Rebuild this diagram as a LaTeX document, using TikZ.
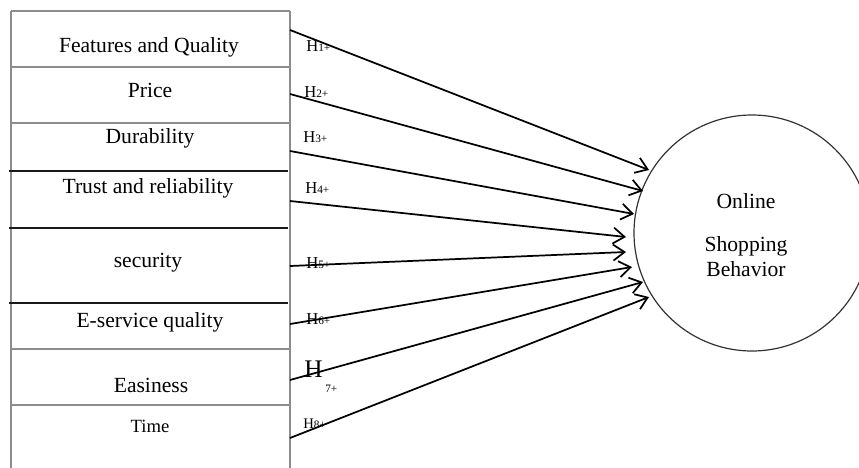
\documentclass[tikz,border=0pt]{standalone}
\usepackage{fontspec}
\setmainfont{Liberation Serif}
\usetikzlibrary{arrows.meta, positioning}

\tikzset{
  factor/.style={anchor=base, inner sep=0pt, font=\fontsize{16.2}{19}\selectfont},
  hlab/.style={anchor=base west, inner sep=0pt, font=\fontsize{12.5}{14}\selectfont},
  rowline/.style={draw=black!45, line width=0.8pt},
  darkline/.style={draw=black!90, line width=0.8pt},
  hyparrow/.style={line width=1.3pt, -{Straight Barb[length=8.5pt,width=12pt]}}
}
\newcommand{\hsub}[1]{{\fontsize{8.5}{9}\selectfont #1}}

\begin{document}
\begin{tikzpicture}[x=0.75pt, y=-0.75pt]
                \useasboundingbox (0,0) rectangle (859,467);
                \clip (0,0) rectangle (859,467);

                % Factor table
                \draw[rowline] (11,11) -- (11,470);
                \draw[rowline] (290,11) -- (290,470);
                \draw[rowline] (11,11) -- (290,11);
                \draw[rowline] (11,67) -- (290,67);
                \draw[rowline] (11,123) -- (290,123);
                \draw[darkline] (9,171) -- (288,171);
                \draw[darkline] (9,228) -- (288,228);
                \draw[darkline] (9,303) -- (288,303);
                \draw[rowline] (11,349) -- (290,349);
                \draw[rowline] (11,405) -- (290,405);

                \node[factor] (feat) at (149,53) {Features and Quality};
                \node[factor] (price) at (150,97) {Price};
                \node[factor] (dura) at (150,143) {Durability};
                \node[factor] (trust) at (148,193) {Trust and reliability};
                \node[factor] (secu) at (148,267) {security};
                \node[factor] (eserv) at (150,327) {E-service quality};
                \node[factor] (easy) at (151,392) {Easiness};
                \node[factor, font=\fontsize{14}{16}\selectfont] (time) at (150,432) {Time};

                % Outcome
                \node[draw=black!80, line width=0.9pt, circle, minimum size=177pt] (osb) at (752,233) {};
                \node[factor] (onl) at (746,208) {Online};
                \node[factor] (shop) at (746,251) {Shopping};
                \node[factor] (beh) at (746,276) {Behavior};

                % Arrow ends
                \coordinate (s1) at (290,30);
                \coordinate (s2) at (290,94);
                \coordinate (s3) at (290,151);
                \coordinate (s4) at (290,201);
                \coordinate (s5) at (290,266);
                \coordinate (s6) at (290,324);
                \coordinate (s7) at (290,380);
                \coordinate (s8) at (290,438);
                \coordinate (e1) at (649,170);
                \coordinate (e2) at (643,191);
                \coordinate (e3) at (634,214);
                \coordinate (e4) at (626,237);
                \coordinate (e5) at (626,252);
                \coordinate (e6) at (632,267);
                \coordinate (e7) at (643,282);
                \coordinate (e8) at (649,297);

                % Hypotheses
                \draw[hyparrow] (s1) -- (e1);
                \draw[hyparrow] (s2) -- (e2);
                \draw[hyparrow] (s3) -- (e3);
                \draw[hyparrow] (s4) -- (e4);
                \draw[hyparrow] (s5) -- (e5);
                \draw[hyparrow] (s6) -- (e6);
                \draw[hyparrow] (s7) -- (e7);
                \draw[hyparrow] (s8) -- (e8);

                \node[hlab] (h1) at (306,52) {H\hsub{1+}};
                \node[hlab] (h2) at (304,97) {H\hsub{2+}};
                \node[hlab] (h3) at (303,142) {H\hsub{3+}};
                \node[hlab] (h4) at (305,193) {H\hsub{4+}};
                \node[hlab] (h5) at (306,268) {H\hsub{5+}};
                \node[hlab] (h6) at (306,324) {H\hsub{6+}};
                \node[hlab, font=\fontsize{19}{20}\selectfont] (h7) at (304,377) {H};
                \node[hlab] (h7s) at (325,392) {\hsub{7+}};
                \node[hlab, font=\fontsize{11}{12}\selectfont] (h8) at (303,428) {H\hsub{8+}};
            \end{tikzpicture}
\end{document}
